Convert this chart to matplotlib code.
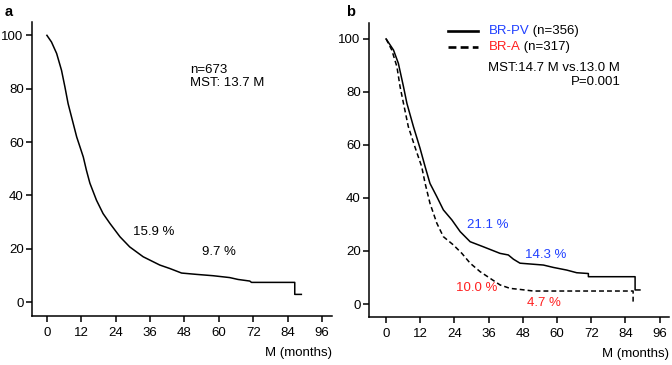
import matplotlib
matplotlib.use("Agg")
import matplotlib.pyplot as plt
from matplotlib.lines import Line2D

plt.rcParams['font.family'] = ['Liberation Sans', 'DejaVu Sans']
plt.rcParams['font.size'] = 9.5

# Panel a: overall survival (all patients)
t_all = [0, 1.6, 3.4, 5.1, 6.3, 7.4, 8.6, 10.4, 11.6, 12.7, 13.8, 15.0, 17.3, 19.6, 22.0,
         25.5, 28.9, 33.6, 39.4, 42.9, 47.0, 52.2, 58.0, 63.8, 66.7, 70.8, 71.4,
         86.5, 86.5, 88.8]
s_all = [100, 97.5, 93.2, 86.9, 80.6, 74.4, 69.4, 61.9, 58.0, 54.4, 49.4, 44.6, 38.2, 33.2, 29.5,
         24.5, 20.7, 17.0, 13.9, 12.6, 10.9, 10.4, 9.9, 9.2, 8.5, 7.9, 7.4,
         7.4, 2.9, 2.9]

# Panel b: BR-PV (solid) vs BR-A (dashed)
t_pv = [0, 2.6, 4.3, 6.1, 7.3, 9.6, 11.9, 13.7, 15.4, 17.8, 20.1, 23.1, 26.0, 29.5,
        34.1, 40.0, 42.9, 44.7, 47.0, 55.2, 58.7, 63.4, 66.9, 71.0, 71.0, 87.4, 87.4, 89.1]
s_pv = [100, 95.8, 90.8, 82.0, 75.7, 66.9, 58.8, 51.8, 45.5, 40.5, 35.5, 31.7, 27.3, 23.5,
        21.6, 19.1, 18.5, 16.9, 15.4, 14.7, 13.8, 12.8, 11.8, 11.5, 10.3, 10.3, 5.3, 5.3]

t_a = [0, 2.0, 3.8, 4.9, 6.1, 7.8, 10.2, 12.5, 13.7, 15.4, 17.8, 20.1, 23.6, 26.6,
       29.5, 33.0, 36.5, 40.0, 43.5, 47.0, 51.7, 86.7, 86.7]
s_a = [100, 95.8, 89.5, 82.0, 75.7, 66.9, 59.0, 51.8, 45.5, 38.0, 30.5, 25.4, 22.3, 19.1,
       15.4, 12.2, 9.7, 7.2, 5.9, 5.5, 4.9, 4.9, 0.3]

xticks = [0, 12, 24, 36, 48, 60, 72, 84, 96]
yticks = [0, 20, 40, 60, 80, 100]

BLUE = '#2040ff'
RED = '#ff2020'

fig = plt.figure(figsize=(6.72, 3.65), dpi=100)
axa = fig.add_axes([32/672, 1-316/365, 300/672, 294/365])
axb = fig.add_axes([369/672, 1-317/365, 300/672, 294/365])

def style(ax, xlim, ylim):
    ax.set_xlim(*xlim)
    ax.set_ylim(*ylim)
    ax.set_xticks(xticks)
    ax.set_yticks(yticks)
    for s in ['top', 'right']:
        ax.spines[s].set_visible(False)
    for s in ['left', 'bottom']:
        ax.spines[s].set_linewidth(1.1)
    ax.tick_params(axis='both', direction='out', length=4, width=1.1, labelsize=9.5)
    ax.tick_params(axis='x', pad=4)
    ax.tick_params(axis='y', pad=2)
    ax.set_xlabel('M (months)', loc='right', fontsize=9.5, labelpad=6)

style(axa, (-5.2, 99.5), (-5.2, 105))
style(axb, (-6.0, 99.3), (-4.9, 106))

# Panel a
axa.plot(t_all, s_all, color='black', lw=1.1)
axa.text(49.9, 86.9, 'n=673', va='center', ha='left')
axa.text(49.9, 82.0, 'MST: 13.7 M', va='center', ha='left')
axa.text(30.0, 26.2, '15.9 %', va='center', ha='left')
axa.text(54.1, 18.7, '9.7 %', va='center', ha='left')

# Panel b
axb.plot(t_pv, s_pv, color='black', lw=1.1)
axb.plot(t_a, s_a, color='black', lw=1.1, dashes=(3.2, 2.0))

axb.add_line(Line2D([0.262, 0.362], [0.974, 0.974], transform=axb.transAxes,
                    color='black', lw=1.9))
axb.add_line(Line2D([0.262, 0.362], [0.919, 0.919], transform=axb.transAxes,
                    color='black', lw=1.9, dashes=(3.0, 1.6)))
t1 = axb.text(0.398, 0.974, 'BR-PV', color=BLUE, transform=axb.transAxes,
              va='center', ha='left')
axb.annotate(' (n=356)', xy=(1, 0.5), xycoords=t1, va='center', ha='left')
t2 = axb.text(0.398, 0.919, 'BR-A', color=RED, transform=axb.transAxes,
              va='center', ha='left')
axb.annotate(' (n=317)', xy=(1, 0.5), xycoords=t2, va='center', ha='left')
axb.text(0.398, 0.847, 'MST:14.7 M vs.13.0 M', transform=axb.transAxes,
         va='center', ha='left')
axb.text(0.84, 0.799, 'P=0.001', transform=axb.transAxes, va='center', ha='right')

axb.text(28.4, 29.8, '21.1 %', color=BLUE, va='center', ha='left')
axb.text(48.8, 18.5, '14.3 %', color=BLUE, va='center', ha='left')
axb.text(24.6, 6.0, '10.0 %', color=RED, va='center', ha='left')
axb.text(49.5, 0.4, '4.7 %', color=RED, va='center', ha='left')

fig.text(5/672, 1-11.5/365, 'a', fontweight='bold', fontsize=10.5, va='center', ha='left')
fig.text(346/672, 1-11.5/365, 'b', fontweight='bold', fontsize=10.5, va='center', ha='left')

fig.savefig('out.png', dpi=100)
